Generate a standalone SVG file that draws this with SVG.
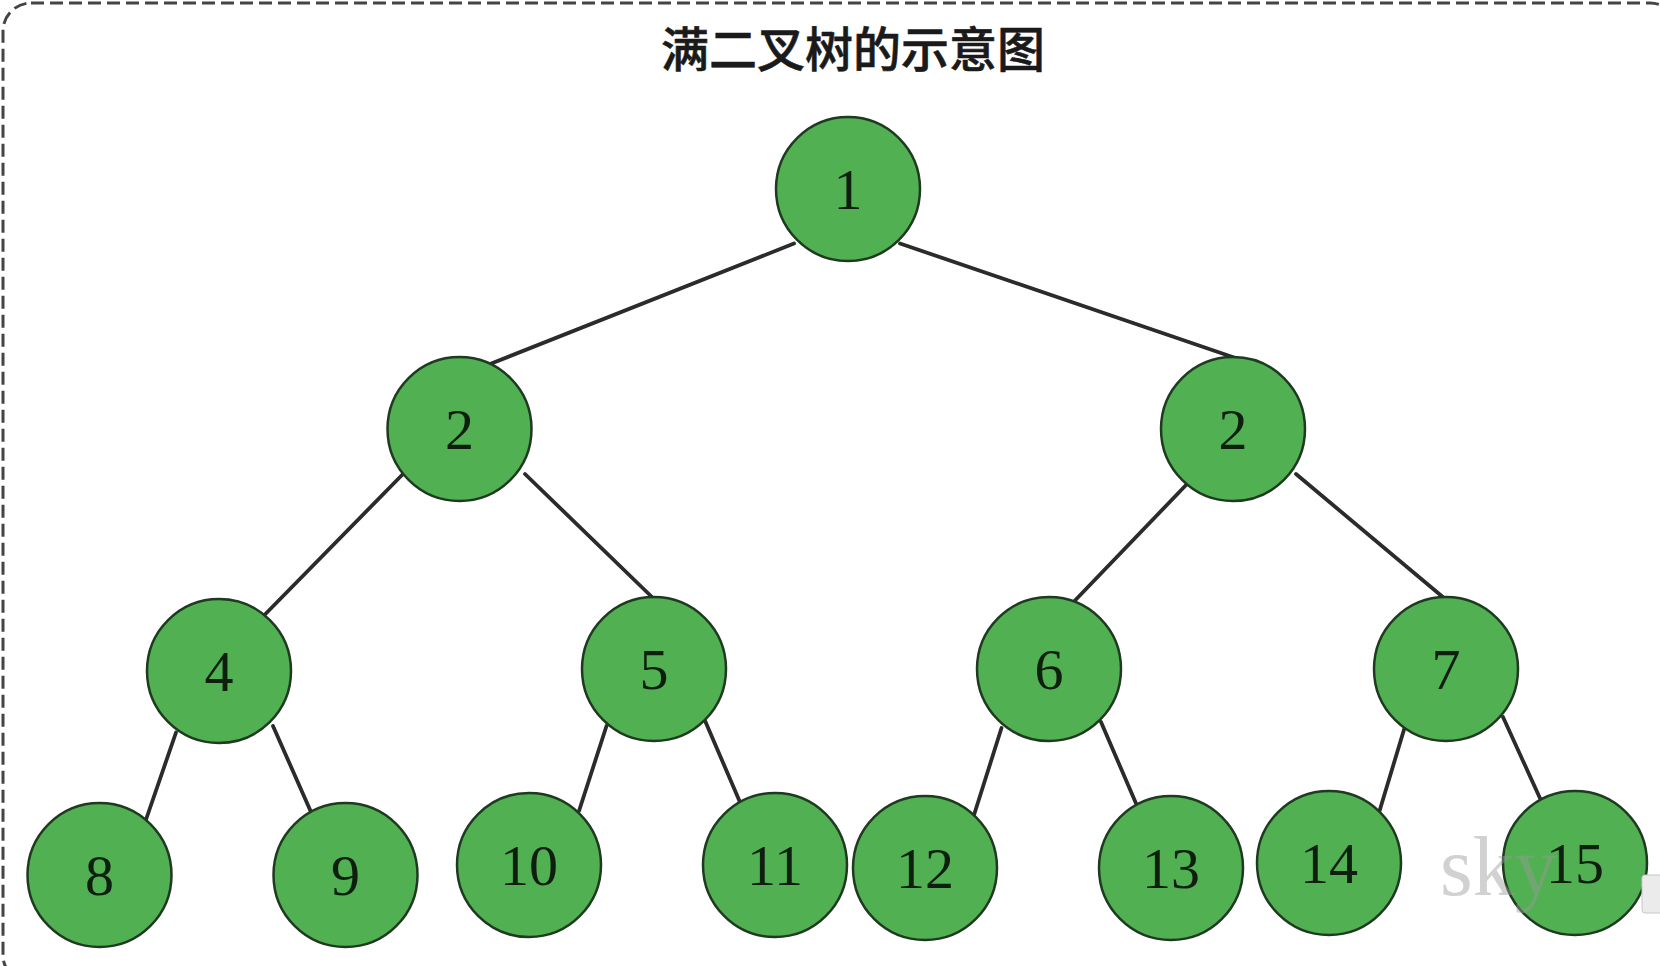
<svg xmlns="http://www.w3.org/2000/svg" width="1660" height="966" viewBox="0 0 1660 966">
<style>
.node circle{fill:#50b052;stroke:#1f3a20;stroke-width:2.5}
.node text{font-family:"Liberation Serif","DejaVu Serif",serif;font-size:58px;fill:#0f1f0f;text-anchor:middle;dominant-baseline:central}
.edges line{stroke:#2b2b2b;stroke-width:3.8;stroke-linecap:round}
</style>
<rect x="0" y="0" width="1660" height="966" fill="#ffffff"/>
<rect id="frame" x="3" y="3" width="1675" height="980" rx="28" ry="28" fill="none" stroke="#444" stroke-width="3" stroke-dasharray="13 6"/>
<text id="title" x="853" y="67" font-family="'Noto Sans CJK SC','Liberation Sans',sans-serif" font-size="48" font-weight="500" fill="#1a1a1a" stroke="#1a1a1a" stroke-width="0.6" text-anchor="middle">满二叉树的示意图</text>
<g class="edges" id="connectors">
<line x1="794" y1="243.5" x2="485" y2="366"/>
<line x1="900" y1="243.5" x2="1235.5" y2="358"/>
<line x1="403" y1="474" x2="262.5" y2="617"/>
<line x1="525" y1="474" x2="654" y2="599"/>
<line x1="1188" y1="483" x2="1074.5" y2="601"/>
<line x1="1296" y1="474" x2="1444" y2="598"/>
<line x1="176" y1="732.5" x2="145" y2="822.5"/>
<line x1="273" y1="726" x2="311" y2="812"/>
<line x1="606.5" y1="726" x2="579" y2="811"/>
<line x1="703" y1="716" x2="741" y2="804.5"/>
<line x1="1001.5" y1="728" x2="974" y2="815"/>
<line x1="1101" y1="722" x2="1138" y2="808"/>
<line x1="1406" y1="723" x2="1379.5" y2="811"/>
<line x1="1503" y1="717" x2="1541.5" y2="801.5"/>
</g>
<g class="node" id="n1"><circle cx="848" cy="189" r="72"/><text x="848" y="189">1</text></g>
<g class="node" id="n2a"><circle cx="459.5" cy="429" r="72"/><text x="459.5" y="429">2</text></g>
<g class="node" id="n2b"><circle cx="1233" cy="429" r="72"/><text x="1233" y="429">2</text></g>
<g class="node" id="n4"><circle cx="219" cy="671" r="72"/><text x="219" y="671">4</text></g>
<g class="node" id="n5"><circle cx="654" cy="669" r="72"/><text x="654" y="669">5</text></g>
<g class="node" id="n6"><circle cx="1049" cy="669" r="72"/><text x="1049" y="669">6</text></g>
<g class="node" id="n7"><circle cx="1446" cy="669" r="72"/><text x="1446" y="669">7</text></g>
<g class="node" id="n8"><circle cx="99.5" cy="875" r="72"/><text x="99.5" y="875">8</text></g>
<g class="node" id="n9"><circle cx="345.5" cy="875" r="72"/><text x="345.5" y="875">9</text></g>
<g class="node" id="n10"><circle cx="529" cy="865" r="72"/><text x="529" y="865">10</text></g>
<g class="node" id="n11"><circle cx="775" cy="865" r="72"/><text x="775" y="865">11</text></g>
<g class="node" id="n12"><circle cx="925" cy="868" r="72"/><text x="925" y="868">12</text></g>
<g class="node" id="n13"><circle cx="1171" cy="868" r="72"/><text x="1171" y="868">13</text></g>
<g class="node" id="n14"><circle cx="1329" cy="863" r="72"/><text x="1329" y="863">14</text></g>
<g class="node" id="n15"><circle cx="1575" cy="863" r="72"/><text x="1575" y="863">15</text></g>
<text id="watermark" x="1440" y="895" font-family="'Liberation Serif',serif" font-size="84" fill="#9a9a9a" opacity="0.45">sky</text>
<rect id="tip" x="1642" y="875" width="24" height="38" rx="3" fill="#ebebeb" stroke="#c8c8c8" stroke-width="1"/>
</svg>
